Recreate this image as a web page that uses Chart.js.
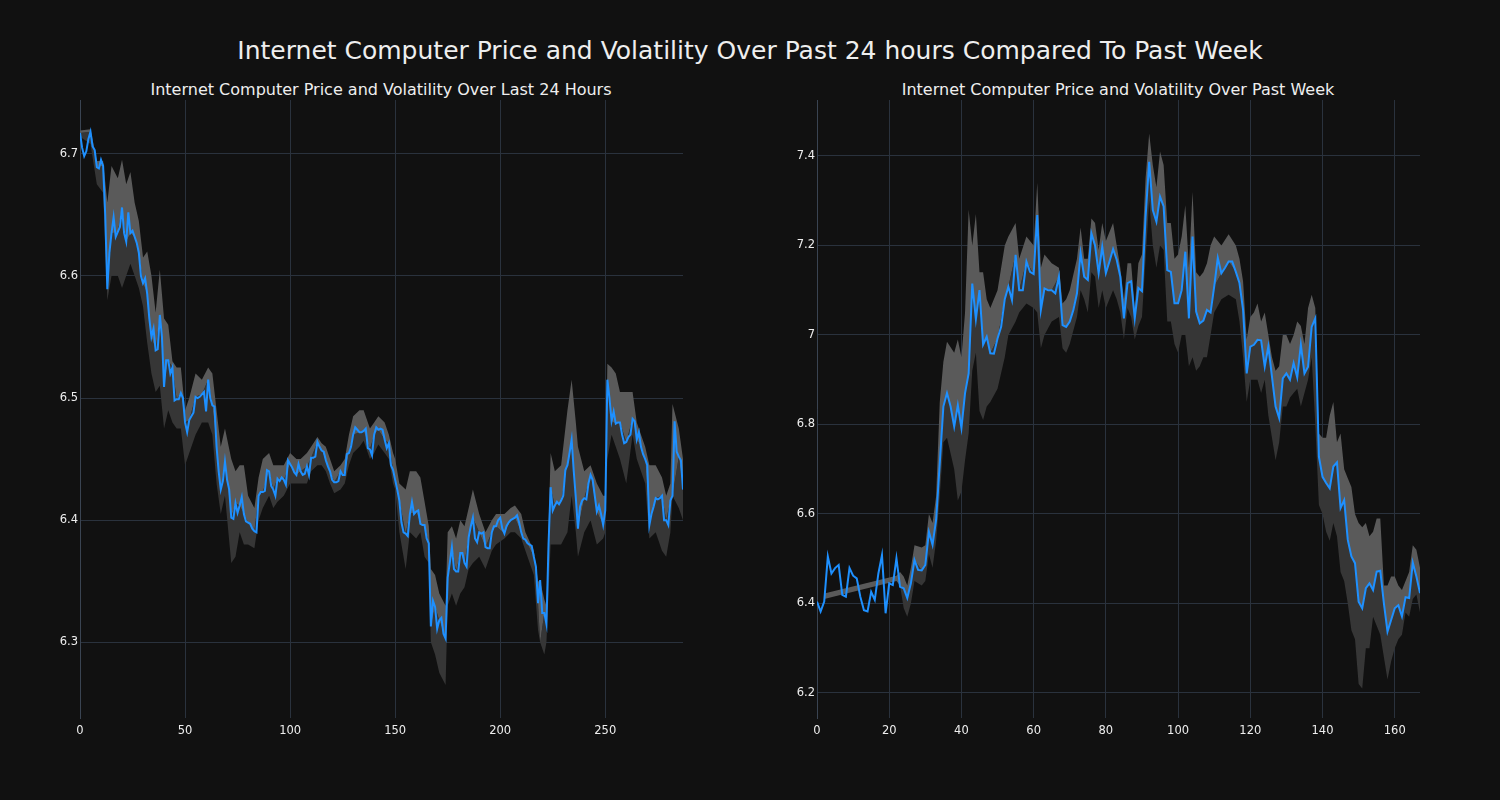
<!DOCTYPE html>
<html lang="en">
<head>
    <meta charset="UTF-8">
    <title>Internet Computer Price and Volatility</title>
    <script src="https://cdn.jsdelivr.net/npm/chart.js"></script>
    <style>
        body {
            margin: 0;
            background: #111111;
            width: 1500px;
            height: 800px;
            overflow: hidden;
            font-family: 'DejaVu Sans', sans-serif;
            color: #eeeeee;
        }
        .title {
            position: absolute;
            white-space: nowrap;
            transform: translate(-50%, -50%);
        }
        #main-title { left: 750px; top: 50px; font-size: 25px; }
        .sub { top: 89px; font-size: 16px; }
        canvas { position: absolute; top: 90px; }
    </style>
</head>
<body>
    <div id="main-title" class="title">Internet Computer Price and Volatility Over Past 24 hours Compared To Past Week</div>
    <div class="title sub" style="left: 381px;">Internet Computer Price and Volatility Over Last 24 Hours</div>
    <div class="title sub" style="left: 1118px;">Internet Computer Price and Volatility Over Past Week</div>
    <canvas id="dayChart" width="663" height="680" style="left: 20px;"></canvas>
    <canvas id="weekChart" width="663" height="680" style="left: 757px;"></canvas>
    <script>
        // last 24 hours, one price every 5 minutes (index 0..287)
        const dayPrice = [
            6.717, 6.705, 6.698, 6.702, 6.712, 6.718, 6.706, 6.703, 6.689, 6.688,
            6.695, 6.690, 6.650, 6.589, 6.619, 6.635, 6.648, 6.632, 6.636, 6.640,
            6.656, 6.635, 6.628, 6.652, 6.635, 6.637, 6.632, 6.627, 6.619, 6.600,
            6.594, 6.598, 6.585, 6.565, 6.550, 6.557, 6.539, 6.540, 6.568, 6.550,
            6.509, 6.531, 6.531, 6.520, 6.525, 6.498, 6.499, 6.499, 6.504, 6.500,
            6.480, 6.472, 6.482, 6.485, 6.488, 6.501, 6.500, 6.501, 6.503, 6.505,
            6.489, 6.515, 6.500, 6.494, 6.493, 6.460, 6.440, 6.425, 6.432, 6.448,
            6.433, 6.425, 6.402, 6.401, 6.414, 6.406, 6.412, 6.419, 6.405, 6.399,
            6.398, 6.397, 6.393, 6.391, 6.390, 6.420, 6.423, 6.423, 6.424, 6.441,
            6.440, 6.428, 6.425, 6.420, 6.434, 6.432, 6.435, 6.433, 6.429, 6.449,
            6.446, 6.443, 6.439, 6.437, 6.446, 6.440, 6.437, 6.438, 6.444, 6.437,
            6.451, 6.451, 6.452, 6.464, 6.460, 6.457, 6.456, 6.449, 6.444, 6.440,
            6.433, 6.431, 6.431, 6.432, 6.440, 6.437, 6.437, 6.454, 6.455, 6.460,
            6.470, 6.476, 6.474, 6.472, 6.472, 6.473, 6.475, 6.459, 6.458, 6.453,
            6.470, 6.476, 6.474, 6.475, 6.474, 6.466, 6.459, 6.463, 6.445, 6.441,
            6.433, 6.425, 6.416, 6.398, 6.390, 6.389, 6.387, 6.405, 6.415, 6.405,
            6.407, 6.408, 6.397, 6.396, 6.396, 6.385, 6.381, 6.313, 6.334, 6.329,
            6.311, 6.318, 6.320, 6.307, 6.303, 6.353, 6.365, 6.378, 6.360, 6.358,
            6.358, 6.373, 6.373, 6.365, 6.362, 6.386, 6.395, 6.402, 6.385, 6.382,
            6.390, 6.389, 6.390, 6.378, 6.377, 6.377, 6.390, 6.395, 6.395, 6.400,
            6.402, 6.393, 6.389, 6.395, 6.398, 6.400, 6.401, 6.402, 6.404, 6.398,
            6.390, 6.385, 6.384, 6.381, 6.380, 6.379, 6.370, 6.362, 6.332, 6.351,
            6.324, 6.324, 6.315, 6.380, 6.427, 6.408, 6.412, 6.415, 6.413, 6.416,
            6.420, 6.441, 6.445, 6.455, 6.466, 6.440, 6.418, 6.393, 6.411, 6.416,
            6.418, 6.417, 6.430, 6.437, 6.433, 6.420, 6.407, 6.412, 6.405, 6.396,
            6.408, 6.515, 6.500, 6.481, 6.489, 6.479, 6.480, 6.480, 6.470, 6.463,
            6.464, 6.468, 6.470, 6.483, 6.481, 6.466, 6.472, 6.460, 6.454, 6.450,
            6.445, 6.396, 6.405, 6.411, 6.418, 6.417, 6.418, 6.420, 6.400, 6.400,
            6.396, 6.416, 6.420, 6.481, 6.456, 6.452, 6.449, 6.425
        ];

        // volatility band for the last 24 hours (read at these indices)
        const dayBandX = [
            0, 5, 8, 11, 13, 15, 18, 20, 22, 24, 26, 28, 30, 32, 34, 36, 38, 40, 42, 44,
            46, 48, 50, 52, 55, 58, 61, 63, 65, 67, 69, 72, 74, 76, 78, 80, 83, 85, 87, 90,
            92, 94, 97, 100, 103, 105, 108, 110, 113, 115, 117, 119, 121, 124, 126, 128, 130, 133, 135, 138,
            140, 142, 145, 147, 149, 150, 152, 155, 157, 160, 162, 164, 166, 167, 169, 171, 174, 175, 177, 179,
            181, 183, 185, 187, 190, 193, 196, 198, 202, 205, 207, 210, 212, 216, 218, 219, 221, 222, 224, 226,
            229, 232, 234, 236, 237, 240, 243, 246, 249, 250, 251, 253, 255, 257, 260, 263, 265, 267, 269, 271,
            274, 277, 279, 281, 282, 285, 287
        ];
        const dayBandHigh = [
            6.719, 6.720, 6.694, 6.694, 6.660, 6.690, 6.680, 6.695, 6.675, 6.685, 6.660, 6.645, 6.615, 6.620, 6.600, 6.570, 6.605, 6.565, 6.560, 6.530,
            6.525, 6.525, 6.490, 6.500, 6.520, 6.515, 6.525, 6.520, 6.490, 6.460, 6.475, 6.450, 6.440, 6.445, 6.445, 6.420, 6.410, 6.435, 6.450, 6.455,
            6.445, 6.445, 6.445, 6.455, 6.450, 6.450, 6.455, 6.460, 6.468, 6.463, 6.460, 6.450, 6.440, 6.445, 6.450, 6.470, 6.485, 6.490, 6.490, 6.475,
            6.480, 6.485, 6.480, 6.470, 6.455, 6.450, 6.430, 6.425, 6.440, 6.440, 6.435, 6.415, 6.395, 6.360, 6.355, 6.340, 6.330, 6.390, 6.395, 6.385,
            6.400, 6.395, 6.410, 6.425, 6.405, 6.390, 6.400, 6.405, 6.405, 6.410, 6.412, 6.405, 6.390, 6.375, 6.350, 6.350, 6.335, 6.330, 6.455, 6.440,
            6.445, 6.490, 6.515, 6.480, 6.460, 6.440, 6.445, 6.430, 6.420, 6.420, 6.528, 6.525, 6.520, 6.505, 6.505, 6.505, 6.480, 6.470, 6.460, 6.445,
            6.445, 6.435, 6.420, 6.430, 6.495, 6.475, 6.450
        ];
        const dayBandLow = [
            6.714, 6.708, 6.675, 6.668, 6.580, 6.600, 6.600, 6.590, 6.600, 6.610, 6.600, 6.590, 6.575, 6.545, 6.520, 6.505, 6.510, 6.475, 6.490, 6.480,
            6.475, 6.475, 6.445, 6.455, 6.470, 6.480, 6.480, 6.470, 6.430, 6.405, 6.420, 6.365, 6.370, 6.390, 6.380, 6.380, 6.377, 6.400, 6.410, 6.420,
            6.410, 6.415, 6.420, 6.430, 6.430, 6.430, 6.430, 6.440, 6.445, 6.445, 6.440, 6.430, 6.422, 6.425, 6.430, 6.445, 6.455, 6.460, 6.465, 6.450,
            6.455, 6.462, 6.455, 6.450, 6.430, 6.425, 6.390, 6.360, 6.390, 6.385, 6.390, 6.370, 6.365, 6.300, 6.290, 6.275, 6.265, 6.330, 6.340, 6.330,
            6.340, 6.345, 6.360, 6.365, 6.370, 6.360, 6.375, 6.380, 6.385, 6.390, 6.390, 6.385, 6.375, 6.355, 6.310, 6.300, 6.290, 6.300, 6.380, 6.380,
            6.380, 6.390, 6.420, 6.390, 6.370, 6.390, 6.400, 6.380, 6.385, 6.390, 6.450, 6.470, 6.460, 6.450, 6.430, 6.470, 6.450, 6.440, 6.430, 6.385,
            6.390, 6.375, 6.370, 6.390, 6.420, 6.410, 6.400
        ];

        // past week, one price per hour (index 0..167)
        const weekPrice = [
            6.404, 6.382, 6.404, 6.505, 6.467, 6.479, 6.486, 6.419, 6.415, 6.479,
            6.462, 6.456, 6.415, 6.385, 6.382, 6.426, 6.408, 6.467, 6.508, 6.378,
            6.445, 6.441, 6.501, 6.437, 6.434, 6.412, 6.445, 6.497, 6.475, 6.474,
            6.486, 6.560, 6.531, 6.587, 6.713, 6.840, 6.870, 6.840, 6.795, 6.843,
            6.792, 6.870, 6.914, 7.115, 7.035, 7.100, 6.978, 6.996, 6.959, 6.958,
            6.992, 7.018, 7.080, 7.108, 7.078, 7.179, 7.100, 7.100, 7.164, 7.141,
            7.136, 7.268, 7.056, 7.104, 7.100, 7.100, 7.093, 7.130, 7.022, 7.018,
            7.030, 7.056, 7.093, 7.183, 7.130, 7.123, 7.227, 7.200, 7.138, 7.197,
            7.138, 7.164, 7.192, 7.168, 7.130, 7.037, 7.116, 7.120, 7.037, 7.105,
            7.098, 7.264, 7.387, 7.279, 7.253, 7.309, 7.287, 7.145, 7.141, 7.071,
            7.071, 7.100, 7.186, 7.037, 7.220, 7.052, 7.026, 7.032, 7.056, 7.050,
            7.108, 7.172, 7.138, 7.150, 7.164, 7.164, 7.141, 7.116, 7.056, 6.914,
            6.974, 6.978, 6.989, 6.988, 6.929, 6.974, 6.907, 6.840, 6.814, 6.903,
            6.914, 6.900, 6.937, 6.905, 6.978, 6.914, 6.929, 7.018, 7.037, 6.728,
            6.683, 6.669, 6.657, 6.706, 6.715, 6.613, 6.631, 6.542, 6.505, 6.490,
            6.404, 6.389, 6.434, 6.445, 6.430, 6.471, 6.473, 6.400, 6.337, 6.363,
            6.389, 6.396, 6.371, 6.414, 6.412, 6.491, 6.460, 6.423
        ];

        // volatility band for the past week (read at these indices)
        const weekBandX = [
            2, 22, 23, 24, 25, 26, 27, 29, 30, 31, 32, 33, 34, 35, 36, 38, 39, 40, 41, 42,
            43, 44, 45, 46, 47, 48, 50, 52, 53, 55, 56, 58, 60, 61, 62, 63, 65, 67, 68, 69,
            70, 72, 73, 74, 75, 76, 77, 78, 79, 80, 82, 83, 84, 85, 86, 87, 88, 89, 90, 91,
            92, 93, 94, 95, 96, 97, 98, 99, 100, 101, 102, 103, 104, 105, 106, 107, 108, 109, 110, 112,
            114, 116, 117, 118, 119, 120, 121, 122, 123, 124, 125, 126, 127, 128, 129, 130, 131, 132, 133, 134,
            135, 136, 137, 138, 139, 140, 141, 142, 143, 144, 145, 146, 147, 148, 149, 150, 151, 152, 153, 154,
            155, 156, 157, 158, 159, 160, 161, 162, 163, 164, 165, 166, 167
        ];
        const weekBandHigh = [
            6.422, 6.462, 6.470, 6.460, 6.440, 6.480, 6.530, 6.525, 6.530, 6.600, 6.580, 6.640, 6.850, 6.940, 6.985, 6.960, 6.990, 6.950, 7.050, 7.280,
            7.200, 7.270, 7.140, 7.140, 7.080, 7.060, 7.100, 7.200, 7.220, 7.250, 7.170, 7.220, 7.200, 7.340, 7.150, 7.180, 7.160, 7.150, 7.070, 7.080,
            7.100, 7.170, 7.240, 7.170, 7.170, 7.260, 7.250, 7.190, 7.250, 7.210, 7.250, 7.200, 7.150, 7.080, 7.160, 7.160, 7.060, 7.160, 7.180, 7.350,
            7.450, 7.380, 7.330, 7.410, 7.380, 7.250, 7.250, 7.170, 7.180, 7.220, 7.290, 7.150, 7.320, 7.140, 7.130, 7.140, 7.160, 7.200, 7.220, 7.200,
            7.225, 7.200, 7.170, 7.120, 6.990, 7.040, 7.050, 7.070, 7.030, 7.050, 7.000, 6.950, 6.920, 6.930, 7.000, 7.000, 6.980, 7.000, 7.030, 7.020,
            6.980, 7.060, 7.090, 7.060, 6.780, 6.770, 6.770, 6.820, 6.850, 6.760, 6.780, 6.700, 6.680, 6.660, 6.600, 6.580, 6.570, 6.580, 6.550, 6.560,
            6.590, 6.590, 6.440, 6.440, 6.460, 6.460, 6.440, 6.430, 6.450, 6.470, 6.530, 6.520, 6.480
        ];
        const weekBandLow = [
            6.410, 6.450, 6.440, 6.390, 6.370, 6.400, 6.450, 6.440, 6.450, 6.510, 6.480, 6.540, 6.640, 6.760, 6.770, 6.700, 6.630, 6.650, 6.720, 6.780,
            6.920, 6.960, 6.830, 6.810, 6.840, 6.850, 6.880, 6.950, 7.000, 7.030, 7.050, 7.070, 7.060, 7.050, 6.970, 7.000, 7.030, 7.040, 6.970, 6.960,
            6.980, 7.040, 7.100, 7.080, 7.050, 7.140, 7.130, 7.060, 7.100, 7.060, 7.100, 7.080, 7.050, 6.990, 7.060, 7.040, 6.990, 7.020, 7.040, 7.170,
            7.300, 7.200, 7.150, 7.200, 7.190, 7.030, 7.030, 6.980, 6.960, 7.000, 7.000, 6.930, 6.950, 6.920, 6.930, 6.950, 6.950, 7.000, 7.050, 7.080,
            7.090, 7.080, 7.030, 6.950, 6.850, 6.900, 6.900, 6.900, 6.870, 6.900, 6.820, 6.770, 6.720, 6.760, 6.840, 6.840, 6.860, 6.870, 6.880, 6.840,
            6.870, 6.900, 6.950, 6.800, 6.620, 6.600, 6.560, 6.540, 6.580, 6.550, 6.470, 6.450, 6.400, 6.340, 6.320, 6.220, 6.210, 6.300, 6.300, 6.370,
            6.350, 6.330, 6.280, 6.230, 6.270, 6.300, 6.320, 6.330, 6.380, 6.370, 6.410, 6.420, 6.380
        ];

        const textColor = '#eeeeee';
        const gridColor = '#2a323d';
        const lineColor = '#1e90ff';
        const bandLight = '#5a5a5a';
        const bandDark = '#363636';

        // split line between light (upper) and dark (lower) part of the band
        function bandSplit(price, xs, lows, highs) {
            return xs.map((x, i) => {
                const p = price[x];
                const y = (p >= lows[i] && p <= highs[i]) ? p : lows[i];
                return { x: x, y: y };
            });
        }

        function pts(xs, ys) {
            return ys.map((y, i) => ({ x: xs[i], y: y }));
        }

        function drawChart(canvasId, price, bandX, bandHigh, bandLow, xMax, yMin, yMax, xStep, yStep) {
            const idx = price.map((v, i) => i);
            const datasets = [
                {
                    data: pts(idx, price),
                    borderColor: lineColor,
                    borderWidth: 2,
                    pointRadius: 0,
                    fill: false
                },
                {
                    data: pts(bandX, bandHigh),
                    borderWidth: 0,
                    borderColor: 'rgba(0,0,0,0)',
                    pointRadius: 0,
                    fill: false
                },
                {
                    data: bandSplit(price, bandX, bandLow, bandHigh),
                    borderWidth: 0,
                    borderColor: 'rgba(0,0,0,0)',
                    pointRadius: 0,
                    backgroundColor: bandLight,
                    fill: '-1'
                },
                {
                    data: pts(bandX, bandLow),
                    borderWidth: 0,
                    borderColor: 'rgba(0,0,0,0)',
                    pointRadius: 0,
                    backgroundColor: bandDark,
                    fill: '-1'
                }
            ];

            new Chart(document.getElementById(canvasId), {
                type: 'line',
                data: { datasets: datasets },
                options: {
                    responsive: false,
                    animation: false,
                    devicePixelRatio: 1,
                    layout: { padding: { top: 10, left: 0, right: 0, bottom: 0 } },
                    plugins: { legend: { display: false }, tooltip: { enabled: false } },
                    elements: { line: { tension: 0 } },
                    scales: {
                        x: {
                            type: 'linear',
                            min: 0,
                            max: xMax,
                            afterFit: s => { s.height = 52; },
                            grid: { color: gridColor, drawTicks: false },
                            border: { display: false },
                            ticks: {
                                stepSize: xStep,
                                includeBounds: false,
                                color: textColor,
                                padding: 6,
                                maxRotation: 0,
                                font: { family: 'DejaVu Sans', size: 11.5 }
                            }
                        },
                        y: {
                            min: yMin,
                            max: yMax,
                            afterFit: s => { s.width = 60; },
                            grid: { color: gridColor, drawTicks: false },
                            border: { display: true, color: '#3a4452' },
                            ticks: {
                                stepSize: yStep,
                                includeBounds: false,
                                color: textColor,
                                padding: 2,
                                font: { family: 'DejaVu Sans', size: 11.5 },
                                callback: v => String(parseFloat(v.toFixed(2)))
                            }
                        }
                    }
                }
            });
        }

        drawChart('dayChart', dayPrice, dayBandX, dayBandHigh, dayBandLow, 287, 6.238, 6.744, 50, 0.1);
        drawChart('weekChart', weekPrice, weekBandX, weekBandHigh, weekBandLow, 167, 6.144, 7.525, 20, 0.2);
    </script>
</body>
</html>
